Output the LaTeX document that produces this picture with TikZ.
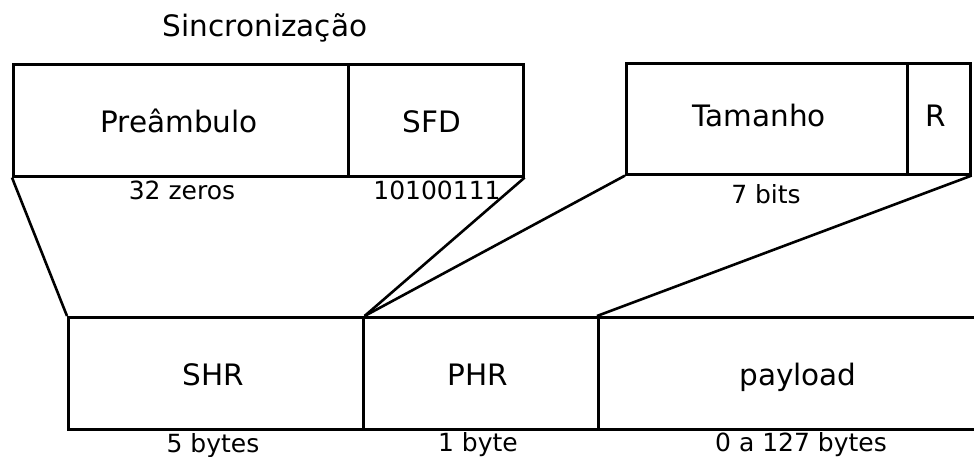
\documentclass[tikz,border=0pt]{standalone}
\usepackage{fontspec}
\setmainfont{DejaVu Sans}
\begin{document}
\begin{tikzpicture}[x=1pt,y=-1pt,
  field/.style={draw, line width=2.6pt, rectangle, inner sep=0pt, anchor=north west},
  big/.style={font=\fontsize{29.5}{34}\selectfont, anchor=base, inner sep=0pt},
  small/.style={font=\fontsize{25}{29}\selectfont, anchor=base, inner sep=0pt},
  link/.style={line width=2.6pt}]
\useasboundingbox (0,0) rectangle (974,457);
\clip (0,0) rectangle (974,457);

% synchronisation header fields
\node[field, minimum width=335pt, minimum height=112pt] (pre) at (12,63) {};
\node[field, minimum width=175pt, minimum height=112pt] (sfd) at (347,63) {};

% PHY header fields
\node[field, minimum width=281pt, minimum height=111pt] (tam) at (625,62) {};
\node[field, minimum width=63pt, minimum height=111pt] (r) at (906,62) {};

% frame
\node[field, minimum width=295pt, minimum height=112pt] (shr) at (67,316) {};
\node[field, minimum width=235pt, minimum height=112pt] (phr) at (362,316) {};
\node[field, minimum width=420pt, minimum height=112pt] (pay) at (597,316) {};

% texts
\node[big] (title) at (265,37) {Sincronização};
\node[big] (tpre) at (179,133) {Preâmbulo};
\node[big] (tsfd) at (432,133) {SFD};
\node[small] (lpre) at (182,200) {32 zeros};
\node[small] (lsfd) at (437,200) {10100111};
\node[big] (ttam) at (759,127) {Tamanho};
\node[big] (tr) at (936,127) {R};
\node[small] (ltam) at (766,204) {7 bits};
\node[big] (tshr) at (213,385) {SHR};
\node[big] (tphr) at (478,385) {PHR};
\node[big] (tpay) at (798,385) {payload};
\node[small] (lshr) at (213,452) {5 bytes};
\node[small] (lphr) at (478,451) {1 byte};
\node[small] (lpay) at (801,451) {0 a 127 bytes};

% expansion lines
\draw[link] (pre.south west) -- (shr.north west);
\draw[link] (sfd.south east) -- (shr.north east);
\draw[link] (tam.south west) -- (shr.north east);
\draw[link] (r.south east) -- (pay.north west);
\end{tikzpicture}
\end{document}
